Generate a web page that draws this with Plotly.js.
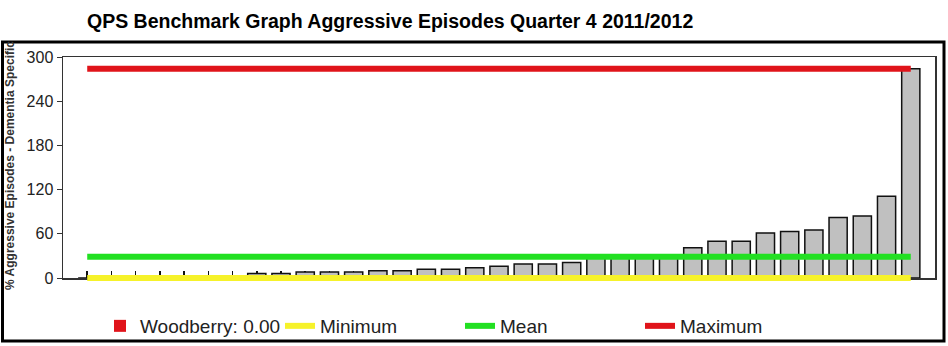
<!DOCTYPE html>
<html>
<head>
<meta charset="utf-8">
<script src="https://cdn.plot.ly/plotly-3.0.1.min.js"></script>
<style>html,body{margin:0;padding:0;background:#fff;}#chart{width:948px;height:346px;}</style>
</head>
<body>
<div id="chart"></div>
<script>
// Data
var categories = [0,1,2,3,4,5,6,7,8,9,10,11,12,13,14,15,16,17,18,19,20,21,22,23,24,25,26,27,28,29,30,31,32,33,34];
var benchmarkValues = [0,0,0,0,0,0,0,6,6,8,8,8,10,10,12,12,14,16,19,19,21,27,28,29,31,41,50,50,61,63,65,82,84,111,284];
var woodberryCategory = [0];
var woodberryValue = [0.00];
var minimumValue = 0;
var meanValue = 29;
var maximumValue = 284;
var yTickValues = [0,60,120,180,240,300];
var yTickLabels = ['0','60','120','180','240','300'];

var lineX = [categories[0], categories[categories.length-1]];

var traces = [
  {type:'bar', x:categories, y:benchmarkValues, width:0.75, showlegend:false,
   marker:{color:'#c0c0c0', line:{color:'#111', width:1.5}}, hoverinfo:'y'},
  {type:'bar', x:woodberryCategory, y:woodberryValue, width:0.75, name:'Woodberry: 0.00',
   marker:{color:'#e0141a', line:{color:'#333', width:0}}},
  {type:'scatter', mode:'lines', x:lineX, y:[minimumValue,minimumValue], name:'Minimum',
   xaxis:'x2', yaxis:'y2', line:{color:'#f6f22a', width:6}},
  {type:'scatter', mode:'lines', x:lineX, y:[meanValue,meanValue], name:'Mean',
   xaxis:'x2', yaxis:'y2', line:{color:'#22e022', width:6}},
  {type:'scatter', mode:'lines', x:lineX, y:[maximumValue,maximumValue], name:'Maximum',
   xaxis:'x2', yaxis:'y2', line:{color:'#e0141a', width:6}}
];

var W=948, H=346, L=63, R=13, T=57, B=60, EXTRA=8;
var pw = W-L-R, ph = H-T-B;            // paper area (ph includes the extra strip)
var mainPh = ph - EXTRA;                // main plot height
function px2x(p){return (p-L)/pw;}
function py2y(p){return (H-B-p)/ph;}
var yMax = 300;
var y2Min = -EXTRA*yMax/mainPh;

var layout = {
  width:W, height:H,
  margin:{l:L, r:R, t:T, b:B, pad:0, autoexpand:false},
  paper_bgcolor:'#fff', plot_bgcolor:'rgba(0,0,0,0)',
  font:{family:'"Liberation Sans", Arial, sans-serif', color:'#222'},
  barmode:'overlay',
  title:{text:'<b>QPS Benchmark Graph Aggressive Episodes Quarter 4 2011/2012</b>',
         xref:'container', yref:'container', x:87/W, xanchor:'left', y:1-21/H, yanchor:'middle',
         font:{size:19.5, color:'#000'}},
  xaxis:{range:[-1,35], showgrid:false, zeroline:false, showline:true, mirror:true,
         linecolor:'#333', linewidth:1.5, ticks:'inside', ticklen:7, tickcolor:'#111', tickwidth:1.5,
         tickmode:'array', tickvals:categories, showticklabels:false, layer:'below traces', fixedrange:true,
         anchor:'y'},
  yaxis:{range:[0,yMax], domain:[EXTRA/ph,1], showgrid:false, zeroline:false, showline:true, mirror:true,
         linecolor:'#333', linewidth:1.5, ticks:'outside', ticklen:5, tickcolor:'#333',
         tickmode:'array', tickvals:yTickValues, ticktext:yTickLabels,
         tickfont:{size:16, color:'#222'}, layer:'below traces', fixedrange:true, anchor:'x'},
  xaxis2:{range:[-1,35], anchor:'y2', visible:false, showgrid:false, zeroline:false, fixedrange:true},
  yaxis2:{range:[y2Min,yMax], domain:[0,1], anchor:'x2', visible:false, showgrid:false, zeroline:false, fixedrange:true},
  showlegend:true,
  legend:{orientation:'h', x:px2x(100), xanchor:'left', y:py2y(307), yanchor:'top',
          entrywidth:135, entrywidthmode:'pixels', itemwidth:30, traceorder:'normal',
          font:{size:19, color:'#222'}, bgcolor:'rgba(0,0,0,0)'},
  annotations:[
    {text:'<b>% Aggressive Episodes - Dementia Specific</b>', textangle:-90, showarrow:false,
     xref:'paper', yref:'paper', x:px2x(10), y:py2y(166), xanchor:'center', yanchor:'middle',
     font:{size:12, color:'#333'}}
  ],
  shapes:[
    {type:'rect', xref:'paper', yref:'paper', x0:px2x(2.5), x1:px2x(944), y0:py2y(341), y1:py2y(42),
     line:{color:'#000', width:3}, fillcolor:'rgba(0,0,0,0)', layer:'above'}
  ]
};

Plotly.newPlot('chart', traces, layout, {displayModeBar:false, staticPlot:true});
</script>
</body>
</html>
